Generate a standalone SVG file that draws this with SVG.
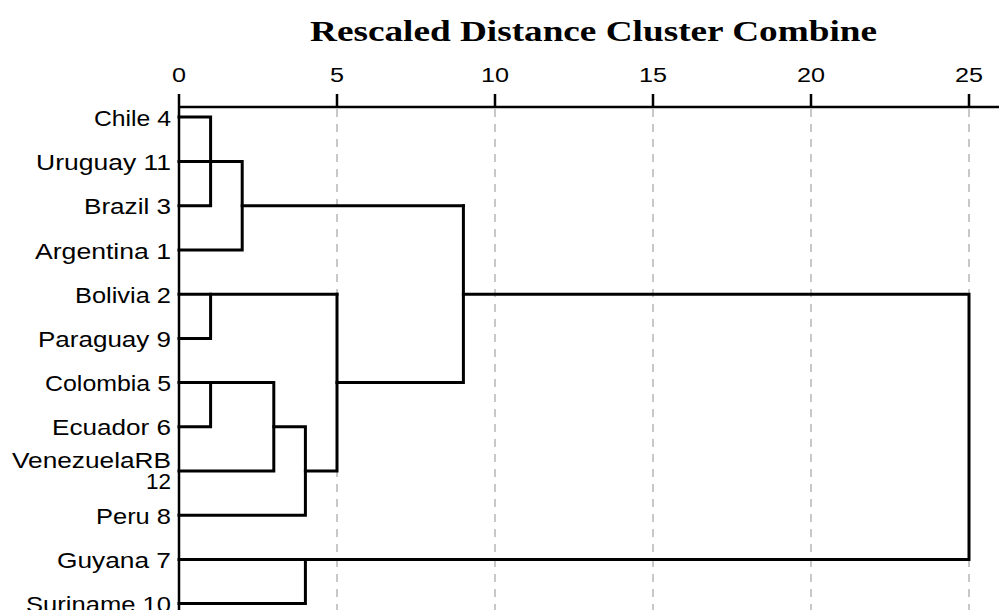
<svg xmlns="http://www.w3.org/2000/svg" width="999" height="610" viewBox="0 0 999 610">
<style>
.lbl{font-family:"Liberation Sans",Arial,sans-serif;font-size:22px;fill:#000;text-anchor:end}
.tick{font-family:"Liberation Sans",Arial,sans-serif;font-size:20px;fill:#000;text-anchor:middle}
.title{font-family:"Liberation Serif","Times New Roman",serif;font-size:29px;font-weight:bold;fill:#000}
.grid{stroke:#c8c8c8;stroke-width:2;stroke-dasharray:8 7;fill:none}
.axis{stroke:#000;stroke-width:2.5;fill:none}
.link{stroke:#000;stroke-width:3;fill:none;stroke-linejoin:miter;stroke-linecap:square}
</style>
<rect width="999" height="610" fill="#fff"/>
<text class="title" x="310" y="40.5" textLength="567" lengthAdjust="spacingAndGlyphs">Rescaled Distance Cluster Combine</text>
<g id="grid">
<line class="grid" x1="337" y1="109" x2="337" y2="610"/>
<line class="grid" x1="495" y1="109" x2="495" y2="610"/>
<line class="grid" x1="653" y1="109" x2="653" y2="610"/>
<line class="grid" x1="811" y1="109" x2="811" y2="610"/>
<line class="grid" x1="969" y1="109" x2="969" y2="610"/>
</g>
<g id="axis">
<path class="axis" d="M179,94 V610 M179,107 H999 M337,94 V107 M495,94 V107 M653,94 V107 M811,94 V107 M969,94 V107"/>
<text class="tick" x="179" y="81.5" textLength="14" lengthAdjust="spacingAndGlyphs">0</text>
<text class="tick" x="337" y="81.5" textLength="14" lengthAdjust="spacingAndGlyphs">5</text>
<text class="tick" x="495" y="81.5" textLength="28" lengthAdjust="spacingAndGlyphs">10</text>
<text class="tick" x="653" y="81.5" textLength="28" lengthAdjust="spacingAndGlyphs">15</text>
<text class="tick" x="811" y="81.5" textLength="28" lengthAdjust="spacingAndGlyphs">20</text>
<text class="tick" x="969" y="81.5" textLength="28" lengthAdjust="spacingAndGlyphs">25</text>
</g>
<g id="connectors">
<path class="link" d="M179,117 H210.6 V205.8 H179"/>
<path class="link" d="M179,161.5 H242.2 V250 H179"/>
<path class="link" d="M242.2,205.8 H463.4"/>
<path class="link" d="M179,294.2 H337"/>
<path class="link" d="M210.6,294.2 V338.4 H179"/>
<path class="link" d="M179,382.6 H273.8 V471 H179"/>
<path class="link" d="M210.6,382.6 V426.8 H179"/>
<path class="link" d="M273.8,426.8 H305.4 V515.2 H179"/>
<path class="link" d="M305.4,471 H337 V294.2"/>
<path class="link" d="M337,382.6 H463.4 V205.8"/>
<path class="link" d="M463.4,294.2 H969 V559.4 H179"/>
<path class="link" d="M305.4,559.4 V603.6 H179"/>
</g>
<g id="chile"><text class="lbl" x="171" y="125.5" textLength="77" lengthAdjust="spacingAndGlyphs">Chile 4</text></g>
<g id="uruguay"><text class="lbl" x="171" y="170" textLength="135" lengthAdjust="spacingAndGlyphs">Uruguay 11</text></g>
<g id="brazil"><text class="lbl" x="171" y="214.3" textLength="87" lengthAdjust="spacingAndGlyphs">Brazil 3</text></g>
<g id="argentina"><text class="lbl" x="171" y="258.5" textLength="136" lengthAdjust="spacingAndGlyphs">Argentina 1</text></g>
<g id="bolivia"><text class="lbl" x="171" y="302.7" textLength="96" lengthAdjust="spacingAndGlyphs">Bolivia 2</text></g>
<g id="paraguay"><text class="lbl" x="171" y="346.9" textLength="133" lengthAdjust="spacingAndGlyphs">Paraguay 9</text></g>
<g id="colombia"><text class="lbl" x="171" y="391.1" textLength="126" lengthAdjust="spacingAndGlyphs">Colombia 5</text></g>
<g id="ecuador"><text class="lbl" x="171" y="435.3" textLength="119" lengthAdjust="spacingAndGlyphs">Ecuador 6</text></g>
<g id="venezuela"><text class="lbl" x="171" y="468" textLength="159" lengthAdjust="spacingAndGlyphs">VenezuelaRB</text><text class="lbl" x="171" y="489" textLength="25" lengthAdjust="spacingAndGlyphs">12</text></g>
<g id="peru"><text class="lbl" x="171" y="523.7" textLength="75" lengthAdjust="spacingAndGlyphs">Peru 8</text></g>
<g id="guyana"><text class="lbl" x="171" y="567.9" textLength="114" lengthAdjust="spacingAndGlyphs">Guyana 7</text></g>
<g id="suriname"><text class="lbl" x="171" y="612" textLength="145" lengthAdjust="spacingAndGlyphs">Suriname 10</text></g>
</svg>
